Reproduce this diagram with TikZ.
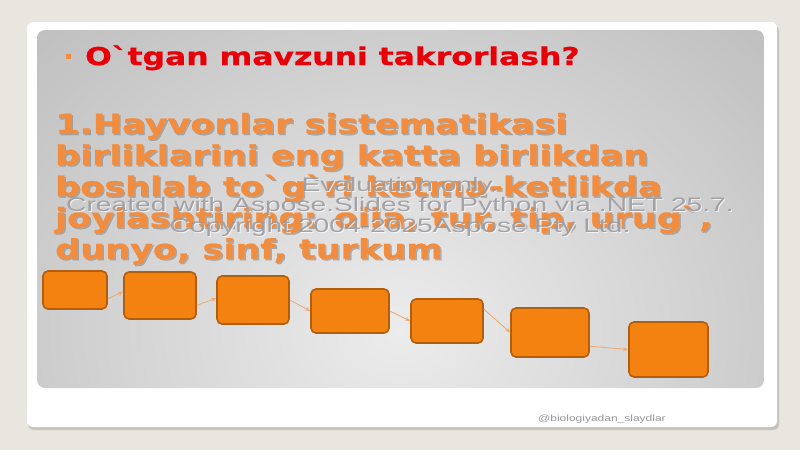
\documentclass[tikz,border=0pt]{standalone}
\usepackage{fontspec}
\setmainfont{DejaVu Sans}[Ligatures=TeXOff]
\newfontfamily\heavyfont{DejaVu Sans Bold}[Ligatures=TeXOff, FakeBold=0.8]
\newfontfamily\wmfont{Liberation Sans}
\usetikzlibrary{arrows.meta}
\definecolor{slidebg}{RGB}{232,230,222}
\definecolor{cardshadow}{RGB}{196,195,188}
\definecolor{panellight}{RGB}{236,236,236}
\definecolor{paneldark}{RGB}{163,163,163}
\definecolor{titlered}{RGB}{232,0,8}
\definecolor{textorange}{RGB}{242,140,62}
\definecolor{boxorange}{RGB}{243,130,16}
\definecolor{boxedge}{RGB}{178,94,12}
\definecolor{linkorange}{RGB}{240,168,108}
\definecolor{markgray}{RGB}{150,150,156}
\newcommand{\wide}[2][1.333]{\scalebox{#1}[1]{#2}}
\tikzset{
  unitbox/.style={draw=boxedge, line width=1.6pt, fill=boxorange, rounded corners=5pt, inner sep=0pt},
  link/.style={draw=linkorange, line width=0.8pt, -{Stealth[length=5pt,width=4pt]}},
  bodytext/.style={anchor=base west, inner sep=0pt, font=\heavyfont\fontsize{27}{31.3}\selectfont},
  marktext/.style={anchor=base, inner sep=0pt, font=\wmfont\fontsize{19.5}{20.5}\selectfont}
}

\begin{document}
\begin{tikzpicture}[x=1pt,y=-1pt]
\useasboundingbox (0,0) rectangle (800,450);
\fill[slidebg] (0,0) rectangle (800,450);

% slide card and grey panel
\fill[cardshadow, rounded corners=6pt] (28,25) rectangle (779,430);
\fill[white, rounded corners=6pt] (27,22) rectangle (777,427);
\begin{scope}
\clip[rounded corners=8pt] (37,30) rectangle (764,388);
\shade[inner color=panellight, outer color=paneldark] (-440,-370) rectangle (1240,1030);
\end{scope}

% title
\fill[textorange] (66,54) rectangle (71,59);
\node[anchor=base west, inner sep=0pt, text=titlered, font=\heavyfont\fontsize{24.5}{29}\selectfont] (title) at (85,65) {\wide[1.282]{O`tgan mavzuni takrorlash?}};

% question
\node[bodytext, text=black!45, opacity=0.6] (qshadow) at (56.5,135) {\wide[1.297]{\begin{tabular}[t]{@{}l@{}}1.Hayvonlar sistematikasi\\ birliklarini eng katta birlikdan\\ boshlab to`g`ri ketma-ketlikda\\ joylashtiring: oila, tur, tip, urug`,\\ dunyo, sinf, turkum\end{tabular}}};
\node[bodytext, text=textorange] (question) at (55,133.5) {\wide[1.297]{\begin{tabular}[t]{@{}l@{}}1.Hayvonlar sistematikasi\\ birliklarini eng katta birlikdan\\ boshlab to`g`ri ketma-ketlikda\\ joylashtiring: oila, tur, tip, urug`,\\ dunyo, sinf, turkum\end{tabular}}};

% watermark
\node[marktext, text=white, opacity=0.7] (markhi) at (401,192) {\wide[1.446]{\begin{tabular}[t]{@{}c@{}}Evaluation only.\\ Created with Aspose.Slides for Python via .NET 25.7.\\ Copyright 2004-2025Aspose Pty Ltd.\end{tabular}}};
\node[marktext, text=markgray, opacity=0.85] (mark) at (400,191) {\wide[1.446]{\begin{tabular}[t]{@{}c@{}}Evaluation only.\\ Created with Aspose.Slides for Python via .NET 25.7.\\ Copyright 2004-2025Aspose Pty Ltd.\end{tabular}}};

% answer boxes
\node[unitbox, minimum width=64pt, minimum height=38pt] (b1) at (75,290) {};
\node[unitbox, minimum width=72pt, minimum height=47pt] (b2) at (160,295.5) {};
\node[unitbox, minimum width=72pt, minimum height=48pt] (b3) at (253,300) {};
\node[unitbox, minimum width=78pt, minimum height=44pt] (b4) at (350,311) {};
\node[unitbox, minimum width=72pt, minimum height=44pt] (b5) at (447,321) {};
\node[unitbox, minimum width=78pt, minimum height=49pt] (b6) at (550,332.5) {};
\node[unitbox, minimum width=79pt, minimum height=55pt] (b7) at (668.5,349.5) {};

\draw[link] (b1.-15) -- (b2.174);
\draw[link] (b2.-15) -- (b3.177);
\draw[link] (b3.east) -- (b4.west);
\draw[link] (b4.east) -- (b5.west);
\draw[link] (b5.18) -- (b6.west);
\draw[link] (b6.-19) -- (b7.west);

% footer
\node[anchor=base west, inner sep=0pt, text=markgray, font=\wmfont\fontsize{9}{11}\selectfont] (footer) at (538,421) {\wide{@biologiyadan\_slaydlar}};
\end{tikzpicture}
\end{document}
